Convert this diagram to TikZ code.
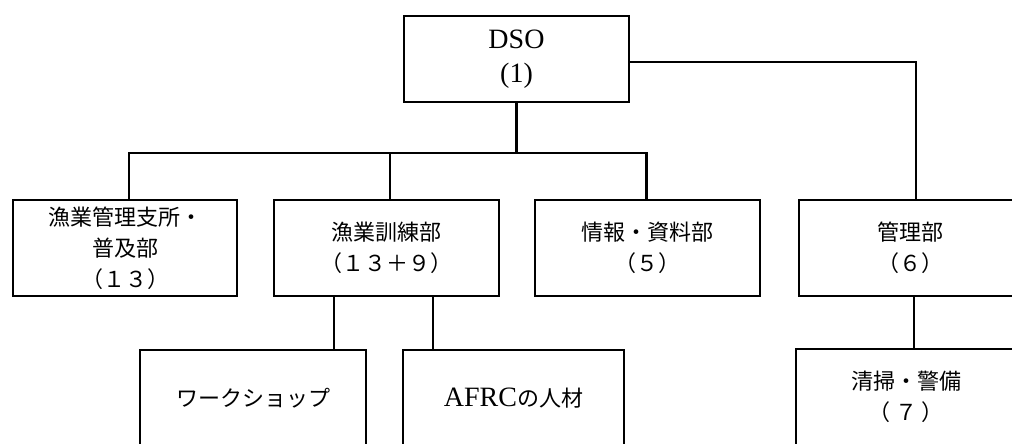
\documentclass[tikz,border=0pt]{standalone}
\usepackage{fontspec}
\setmainfont{Liberation Serif}
\newfontfamily\jp{Noto Sans CJK JP}
\begin{document}
\begin{tikzpicture}[x=1pt,y=-1pt,line width=2.7pt,
  box/.style={draw,line width=2.7pt,align=center,inner sep=0pt,minimum height=96pt},
  jtext/.style={font=\jp\fontsize{22}{31}\selectfont},
  stext/.style={font=\fontsize{28}{34}\selectfont}]
\useasboundingbox (0,0) rectangle (1012,444);
\clip (0,0) rectangle (1012,444);
\node[box,stext,minimum width=225pt,minimum height=86pt] (dso) at (516.5,59) {DSO\\(1)};
\node[box,jtext,minimum width=224pt] (b1) at (125,248) {漁業管理支所・\\普及部\\（１３）};
\node[box,jtext,minimum width=225pt] (b2) at (386.5,248) {漁業訓練部\\（１３＋９）};
\node[box,jtext,minimum width=225pt] (b3) at (647.5,248) {情報・資料部\\（５）};
\node[box,jtext,minimum width=222pt] (b4) at (910,248) {管理部\\（６）};
\node[box,jtext,minimum width=226pt] (ww) at (253,398) {ワークショップ};
\node[box,stext,minimum width=221pt] (af) at (513.5,398) {AFRC{\jp\fontsize{22}{31}\selectfont の人材}};
\node[box,jtext,minimum width=220pt] (cs) at (906,397) {清掃・警備\\（ ７ ）};
\coordinate (j) at (516.5,153);
\draw (dso.south) -- (j);
\draw ([xshift=4]b1.north) |- (j) -| ([xshift=-1]b3.north);
\draw ([xshift=3.5]b2.north) -- ([xshift=3.5]b2.north |- j);
\draw ([yshift=-3]dso.east) -| ([xshift=6]b4.north);
\draw ([xshift=-52.5]b2.south) -- ([xshift=-52.5]b2.south |- ww.north);
\draw ([xshift=46.5]b2.south) -- ([xshift=46.5]b2.south |- af.north);
\draw ([xshift=4]b4.south) -- ([xshift=4]b4.south |- cs.north);
\end{tikzpicture}
\end{document}
